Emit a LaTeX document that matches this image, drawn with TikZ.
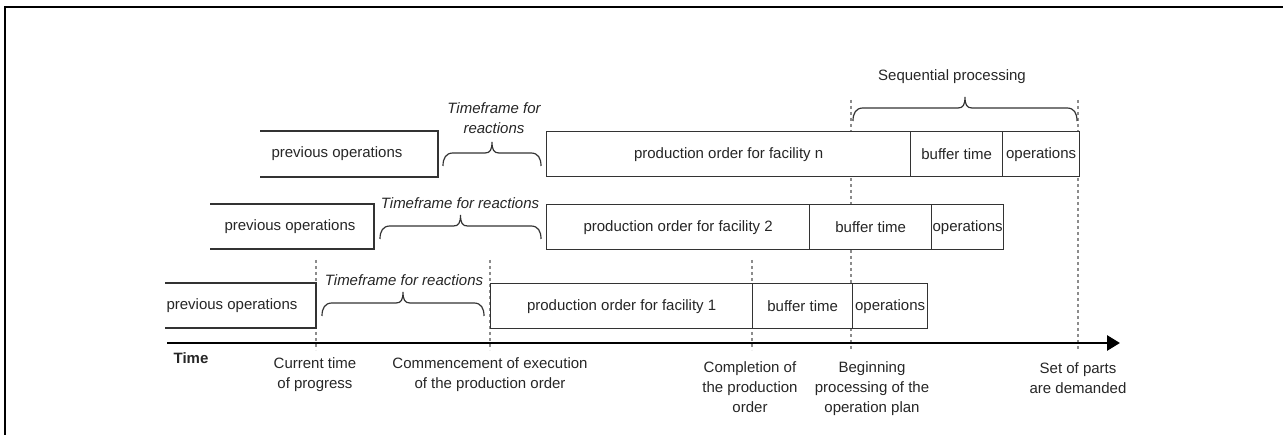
\documentclass[tikz,border=0pt]{standalone}
\usepackage{fontspec}
\setmainfont{Liberation Sans}
\usetikzlibrary{calc,arrows.meta}

% curly brace opening upwards between two named points (drawn in canvas pt)
\newcommand\curlybrace[2]{%
  \draw[curly] let \p1=(#1), \p2=(#2), \n1={(\x1+\x2)/2} in
    (\p1) .. controls ({\x1},{\y1+8pt}) and ({\x1+3pt},{\y1+13pt}) .. ({\x1+10pt},{\y1+13pt})
    -- ({\n1-7pt},{\y1+13pt})
    .. controls ({\n1-2pt},{\y1+13pt}) and ({\n1},{\y1+16pt}) .. ({\n1},{\y1+24pt})
    .. controls ({\n1},{\y1+16pt}) and ({\n1+2pt},{\y1+13pt}) .. ({\n1+7pt},{\y1+13pt})
    -- ({\x2-10pt},{\y1+13pt})
    .. controls ({\x2-3pt},{\y1+13pt}) and ({\x2},{\y1+8pt}) .. (\p2);}

\begin{document}
\begin{tikzpicture}[x=1pt,y=-1pt,
  font=\fontsize{15}{20}\selectfont,
  every node/.style={text=black!85},
  cell/.style={draw=black!80, line width=1.3pt, fill=white, minimum height=45pt,
    inner sep=0pt, anchor=north west},
  opentext/.style={inner sep=0pt},
  openbox/.style={draw=black!80, line width=1.3pt, line join=miter},
  guide/.style={draw=black!45, line width=1.2pt, dash pattern=on 3pt off 3pt},
  tf/.style={font=\fontsize{15}{20}\selectfont\itshape, align=center, inner sep=0pt},
  curly/.style={draw=black!80, line width=1.2pt},
  tlabel/.style={align=center, anchor=north, inner sep=0pt}
]
\useasboundingbox (0,0) rectangle (1283,435);

% frame corner
\draw[line width=2.6pt, line cap=rect] (5,435) -- (5,7) -- (1283,7);

% vertical guide lines for the time markers
\coordinate (gCurT) at (316,260);  \coordinate (gCurB) at (316,350);
\coordinate (gComT) at (490,260);  \coordinate (gComB) at (490,350);
\coordinate (gEndT) at (752,260);  \coordinate (gEndB) at (752,350);
\coordinate (gBegT) at (851,100);  \coordinate (gBegB) at (851,350);
\coordinate (gSetT) at (1078,100); \coordinate (gSetB) at (1078,350);
\foreach \g in {Cur,Com,End,Beg,Set}
  \draw[guide] (g\g T) -- (g\g B);

% ---- row for facility n ----
\node[opentext] (prevN) at (337,154) {previous operations};
\coordinate (pNtl) at (260,131); \coordinate (pNtr) at (438,131);
\coordinate (pNbr) at (438,177); \coordinate (pNbl) at (260,177);
\draw[openbox] (pNtl) -- (pNtr) -- (pNbr) -- (pNbl);
\node[cell, minimum width=364pt] (ordN) at (546,131) {production order for facility n};
\node[cell, minimum width=92pt]  (bufN) at (910,131) {buffer time};
\node[cell, minimum width=77pt]  (opsN) at (1002,131) {operations};
\coordinate (brNa) at (443,166); \coordinate (brNb) at (541,166);
\curlybrace{brNa}{brNb}
\node[tf] (tfN) at (494,118) {Timeframe for\\reactions};

% ---- row for facility 2 ----
\node[opentext] (prev2) at (290,226.5) {previous operations};
\coordinate (p2tl) at (210,204); \coordinate (p2tr) at (374,204);
\coordinate (p2br) at (374,249); \coordinate (p2bl) at (210,249);
\draw[openbox] (p2tl) -- (p2tr) -- (p2br) -- (p2bl);
\node[cell, minimum width=263pt] (ord2) at (546,204) {production order for facility 2};
\node[cell, minimum width=122pt] (buf2) at (809,204) {buffer time};
\node[cell, minimum width=72pt]  (ops2) at (931,204) {operations};
\coordinate (br2a) at (380,239); \coordinate (br2b) at (541,239);
\curlybrace{br2a}{br2b}
\node[tf] (tf2) at (460,203) {Timeframe for reactions};

% ---- row for facility 1 ----
\node[opentext] (prev1) at (232,305.5) {previous operations};
\coordinate (p1tl) at (165,283); \coordinate (p1tr) at (316,283);
\coordinate (p1br) at (316,328); \coordinate (p1bl) at (165,328);
\draw[openbox] (p1tl) -- (p1tr) -- (p1br) -- (p1bl);
\node[cell, minimum width=262pt] (ord1) at (490,283) {production order for facility 1};
\node[cell, minimum width=100pt] (buf1) at (752,283) {buffer time};
\node[cell, minimum width=75pt]  (ops1) at (852,283) {operations};
\coordinate (br1a) at (322,316); \coordinate (br1b) at (484,316);
\curlybrace{br1a}{br1b}
\node[tf] (tf1) at (404,280) {Timeframe for reactions};

% ---- sequential processing brace ----
\coordinate (brSa) at (853,121); \coordinate (brSb) at (1077,121);
\curlybrace{brSa}{brSb}
\node[inner sep=0pt] (seq) at (952,77) {Sequential processing};

% ---- time axis ----
\coordinate (ax0) at (167,343); \coordinate (ax1) at (1120,343);
\draw[line width=2.8pt, -{Triangle[length=13pt,width=15pt]}] (ax0) -- (ax1);
\node[inner sep=0pt, font=\fontsize{15}{20}\selectfont\bfseries] (time) at (191,358) {Time};

% ---- time marker labels ----
\node[tlabel] (mCur) at (315,357) {Current time\\of progress};
\node[tlabel] (mCom) at (490,357) {Commencement of execution\\of the production order};
\node[tlabel] (mEnd) at (750,361) {Completion of\\the production\\order};
\node[tlabel] (mBeg) at (872,361) {Beginning\\processing of the\\operation plan};
\node[tlabel] (mSet) at (1078,362) {Set of parts\\are demanded};
\end{tikzpicture}
\end{document}
